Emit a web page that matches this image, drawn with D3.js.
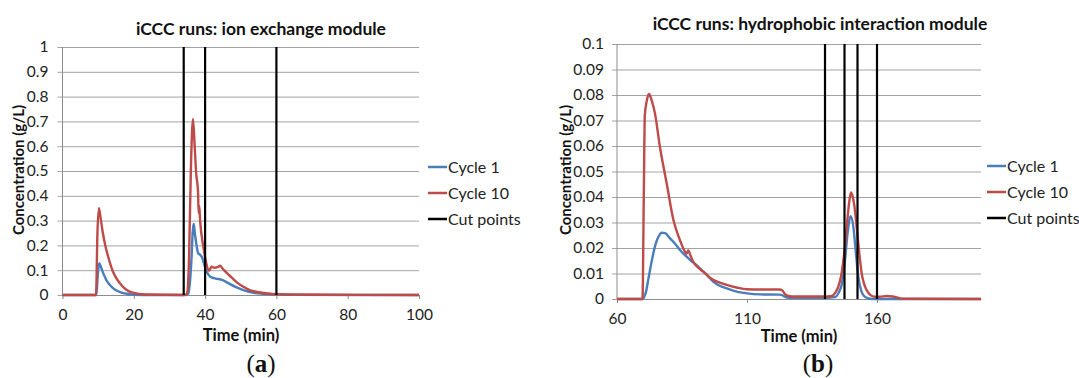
<!DOCTYPE html>
<html>
<head>
<meta charset="utf-8">
<script src="https://cdnjs.cloudflare.com/ajax/libs/d3/7.8.5/d3.min.js"></script>
<style>
  html, body { margin: 0; padding: 0; background: #fff; }
  svg { display: block; font-family: Lato, "Open Sans", sans-serif; }
</style>
</head>
<body>
<svg id="chart" width="1079" height="378"></svg>
<script>
// (a) ion exchange module
var ionTime1 = [0, 9.5, 9.9, 10.3, 10.8, 11.5, 12.3, 13, 14, 15, 16.5, 18, 20, 25, 34, 35.3, 35.8, 36.2, 36.5, 36.8, 37.2, 37.6, 38, 38.6, 39.2, 40, 41, 42, 43, 44.5, 45.5, 47, 48.5, 50, 52, 54, 56, 60, 65, 100];
var ionCycle1 = [0, 0, 0.08, 0.128, 0.112, 0.085, 0.06, 0.045, 0.03, 0.019, 0.01, 0.005, 0.001, 0, 0, 0.005, 0.06, 0.15, 0.25, 0.287, 0.24, 0.2, 0.17, 0.162, 0.15, 0.11, 0.08, 0.07, 0.066, 0.062, 0.056, 0.044, 0.033, 0.024, 0.014, 0.008, 0.005, 0.002, 0.0005, 0];
var ionTime10 = [0, 9.4, 9.8, 10.2, 10.6, 11.2, 12, 13, 14, 15, 16.5, 18, 20, 23, 34.6, 35, 35.5, 36, 36.6, 37, 37.5, 38, 38.2, 38.35, 38.6, 39.5, 40.3, 41.1, 41.8, 42.7, 43.5, 44.2, 45, 46, 47.5, 49, 50.5, 52.5, 55, 59, 65, 75, 100];
var ionCycle10 = [0, 0, 0.25, 0.35, 0.32, 0.26, 0.2, 0.145, 0.1, 0.07, 0.04, 0.02, 0.008, 0.002, 0, 0.01, 0.15, 0.5, 0.71, 0.62, 0.49, 0.42, 0.33, 0.36, 0.3, 0.195, 0.13, 0.098, 0.114, 0.11, 0.112, 0.118, 0.105, 0.09, 0.07, 0.05, 0.035, 0.02, 0.011, 0.004, 0.002, 0.001, 0];
var ionCuts = [34, 40, 60];
var ionXTicks = [0, 20, 40, 60, 80, 100];
var ionYTicks = [0, 0.1, 0.2, 0.3, 0.4, 0.5, 0.6, 0.7, 0.8, 0.9, 1];

// (b) hydrophobic interaction module
var hicTime1 = [60, 70, 70.5, 71.2, 72, 73, 74, 75, 76, 77.2, 78.5, 80.4, 82.5, 84.2, 86.8, 88.5, 90.6, 93.2, 95, 97, 99.5, 102.2, 105, 108, 110, 115, 122.5, 123.5, 125, 127, 140, 144, 145.5, 146.5, 147.7, 148.7, 149.9, 150.9, 151.9, 152.8, 154, 155, 156.5, 158, 200];
var hicCycle1 = [0, 0, 0.001, 0.003, 0.0075, 0.013, 0.018, 0.022, 0.0245, 0.026, 0.0258, 0.0238, 0.0215, 0.0192, 0.0166, 0.015, 0.0133, 0.0107, 0.009, 0.0068, 0.0052, 0.0042, 0.0032, 0.0025, 0.0022, 0.0018, 0.0017, 0.0015, 0.0007, 0.0005, 0.0005, 0.0008, 0.003, 0.006, 0.0153, 0.0258, 0.0325, 0.0284, 0.0179, 0.0088, 0.003, 0.0012, 0.0003, 0, 0];
var hicTime10 = [60, 69.8, 70.3, 70.7, 71.5, 72.3, 73.3, 74.6, 76.5, 79.1, 81.7, 84.2, 86.2, 86.8, 87.4, 88.3, 89.3, 91, 93.2, 95, 97, 99.5, 102.2, 106, 110, 115, 122.5, 123.6, 125, 127, 140, 142.6, 144, 145.1, 146.2, 147.1, 148, 148.6, 149.3, 150, 150.7, 151.5, 152.2, 152.8, 153.5, 154.1, 155, 156, 157.5, 159, 161, 163.7, 166, 168, 170, 200];
var hicCycle10 = [0, 0, 0.04, 0.072, 0.078, 0.0804, 0.078, 0.0728, 0.0597, 0.0454, 0.031, 0.0231, 0.0185, 0.0178, 0.019, 0.017, 0.0146, 0.0125, 0.0107, 0.009, 0.0075, 0.0064, 0.0055, 0.0045, 0.0038, 0.0037, 0.0037, 0.0033, 0.0015, 0.001, 0.001, 0.0012, 0.0025, 0.0048, 0.009, 0.0153, 0.024, 0.031, 0.038, 0.0418, 0.04, 0.0349, 0.028, 0.0218, 0.015, 0.0101, 0.006, 0.0035, 0.0015, 0.0009, 0.0009, 0.0012, 0.001, 0.0005, 0.0001, 0];
var hicCuts = [140, 147.5, 152.5, 160];
var hicXTicks = [60, 110, 160];
var hicYTicks = [0, 0.01, 0.02, 0.03, 0.04, 0.05, 0.06, 0.07, 0.08, 0.09, 0.1];

var legendLabels = ["Cycle 1", "Cycle 10", "Cut points"];
var seriesColors = ["#4a7ebb", "#be4b48", "#000000"];

var svg = d3.select("#chart");

function drawPanel(o){
  var g = svg.append("g");
  var width = o.right - o.left;

  var x = d3.scaleLinear().domain(o.xDomain).range([o.left, o.right]);
  var y = d3.scaleLinear().domain(o.yDomain).range([o.bottom, o.top]);

  // gridlines + y labels
  var yAxis = g.append("g")
    .attr("transform", "translate(" + o.left + ",0)")
    .call(d3.axisLeft(y).tickValues(o.yTicks).tickSizeInner(-width).tickSizeOuter(0)
      .tickPadding(o.yPad).tickFormat(function(d){ return String(d); }));
  yAxis.select(".domain").remove();
  yAxis.selectAll(".tick line").attr("x1", -5).attr("stroke", "#a3a3a3");
  yAxis.selectAll(".tick text").attr("font-size", 15.5).attr("fill", "#222")
    .attr("font-family", "Lato, sans-serif");

  // x axis
  var xAxis = g.append("g")
    .attr("transform", "translate(0," + o.bottom + ")")
    .call(d3.axisBottom(x).tickValues(o.xTicks).tickSizeInner(4).tickSizeOuter(0).tickPadding(10));
  xAxis.select(".domain").attr("stroke", "#8c8c8c");
  xAxis.selectAll(".tick line").attr("stroke", "#8c8c8c");
  xAxis.selectAll(".tick text").attr("font-size", 15.5).attr("fill", "#222")
    .attr("font-family", "Lato, sans-serif");

  g.append("line")
    .attr("x1", o.left).attr("x2", o.left)
    .attr("y1", o.bottom).attr("y2", o.top)
    .attr("stroke", "#8c8c8c");

  var line = d3.line()
    .x(function(d){ return x(d[0]); })
    .y(function(d){ return y(d[1]); })
    .curve(d3.curveMonotoneX);

  o.series.forEach(function(s, i){
    g.append("path")
      .datum(d3.zip(s[0], s[1]))
      .attr("fill", "none")
      .attr("stroke", seriesColors[i])
      .attr("stroke-width", 2.4)
      .attr("stroke-linejoin", "round")
      .attr("d", line);
  });

  g.selectAll(".cut").data(o.cuts).enter()
    .append("line")
    .attr("class", "cut")
    .attr("x1", function(d){ return x(d); })
    .attr("x2", function(d){ return x(d); })
    .attr("y1", y(o.yDomain[0]))
    .attr("y2", y(o.yDomain[1]))
    .attr("stroke", "#000")
    .attr("stroke-width", 2.2);

  // legend
  var lg = g.selectAll(".legend").data(legendLabels).enter()
    .append("g")
    .attr("transform", function(d, i){ return "translate(" + o.legendX + "," + (o.legendY + i * 26) + ")"; });
  lg.append("line")
    .attr("x1", 0).attr("x2", 19)
    .attr("stroke", function(d, i){ return seriesColors[i]; })
    .attr("stroke-width", 2.5);
  lg.append("text")
    .attr("x", 20).attr("dy", "0.35em")
    .attr("font-size", 16).attr("fill", "#222")
    .text(function(d){ return d; });

  // titles
  g.append("text")
    .attr("x", o.titleX).attr("y", o.titleY)
    .attr("text-anchor", "middle")
    .attr("font-size", 17.5).attr("font-weight", "bold").attr("fill", "#111")
    .text(o.title);

  g.append("text")
    .attr("transform", "translate(" + o.yLabelX + "," + o.yLabelY + ") rotate(-90)")
    .attr("text-anchor", "middle")
    .attr("dy", "0.35em")
    .attr("font-size", 15).attr("font-weight", "bold").attr("fill", "#111")
    .text("Concentration (g/L)");

  g.append("text")
    .attr("x", o.xLabelX).attr("y", o.xLabelY)
    .attr("text-anchor", "middle")
    .attr("font-size", 16.5).attr("font-weight", "bold").attr("fill", "#111")
    .text("Time (min)");

  var tag = g.append("text")
    .attr("x", o.tagX).attr("y", 372)
    .attr("text-anchor", "middle")
    .attr("font-family", "'Liberation Serif', 'DejaVu Serif', serif")
    .attr("font-size", 25).attr("fill", "#111");
  tag.append("tspan").text("(");
  tag.append("tspan").attr("font-weight", "bold").text(o.tag);
  tag.append("tspan").text(")");
}

drawPanel({
  title: "iCCC runs: ion exchange module",
  tag: "a",
  xDomain: [0, 100], yDomain: [0, 1],
  left: 62.5, right: 419, top: 47, bottom: 295,
  xTicks: ionXTicks, yTicks: ionYTicks, yPad: 14,
  series: [[ionTime1, ionCycle1], [ionTime10, ionCycle10]],
  cuts: ionCuts,
  legendX: 428, legendY: 167,
  titleX: 261, titleY: 35,
  yLabelX: 19, yLabelY: 170,
  xLabelX: 241, xLabelY: 341,
  tagX: 261
});

drawPanel({
  title: "iCCC runs: hydrophobic interaction module",
  tag: "b",
  xDomain: [60, 200], yDomain: [0, 0.1],
  left: 617, right: 981, top: 44, bottom: 299,
  xTicks: hicXTicks, yTicks: hicYTicks, yPad: 13,
  series: [[hicTime1, hicCycle1], [hicTime10, hicCycle10]],
  cuts: hicCuts,
  legendX: 987, legendY: 166,
  titleX: 820, titleY: 30,
  yLabelX: 566, yLabelY: 170,
  xLabelX: 799, xLabelY: 342,
  tagX: 818
});
</script>
</body>
</html>
